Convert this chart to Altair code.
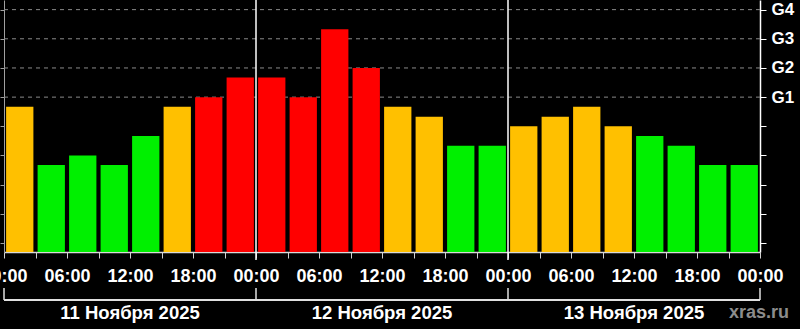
import altair as alt
import pandas as pd

# Kp index, 3-hour intervals, 11-13 Nov 2025
kp = [4.67, 2.67, 3.0, 2.67, 3.67, 4.67, 5.0, 5.67,
      5.67, 5.0, 7.33, 6.0, 4.67, 4.33, 3.33, 3.33,
      4.0, 4.33, 4.67, 4.0, 3.67, 3.33, 2.67, 2.67]
days = ["11 Ноября 2025", "12 Ноября 2025", "13 Ноября 2025"]
g_levels = [5, 6, 7, 8]
day_edges = [0, 24, 48, 72]
separators = [24, 48]

Y_MIN, Y_MAX = -0.31, 8.33
FONT = "Liberation Sans"

def level(v):
    if v < 4:
        return "quiet"
    if v < 5:
        return "active"
    return "storm"

bars_df = pd.DataFrame({
    "start": [i * 3 for i in range(len(kp))],
    "kp": kp,
    "level": [level(v) for v in kp],
})
days_df = pd.DataFrame({"day": days, "center": [i * 24 + 12 for i in range(len(days))]})
grid_df = pd.DataFrame({"g": g_levels})
edges_df = pd.DataFrame({"h": day_edges})
sep_df = pd.DataFrame({"h": separators})

xscale = alt.Scale(domain=[0, 72], nice=False, zero=False)
yscale = alt.Scale(domain=[Y_MIN, Y_MAX], nice=False, zero=False)

x_axis = alt.Axis(
    values=list(range(0, 73, 3)), title=None, grid=False,
    tickSize=6, tickColor="#d0d0d0", domainColor="#d8d8d8", domainWidth=1.5,
    labelExpr="datum.value % 6 == 0 ? ((datum.value % 24) < 10 ? '0' : '') + (datum.value % 24) + ':00' : ''",
    labelColor="white", labelFont=FONT, labelFontSize=18, labelFontWeight="bold",
    labelPadding=9, labelOverlap=False, labelBound=False, labelFlush=False,
)

def X(field):
    return alt.X(field, scale=xscale, axis=x_axis)

bars = alt.Chart(bars_df).mark_bar(opacity=1).transform_calculate(
    x0="datum.start + 0.2", x1="datum.start + 2.8"
).encode(
    x=X("x0:Q"),
    x2="x1:Q",
    y=alt.Y("kp:Q", scale=yscale, axis=alt.Axis(
        orient="left", values=list(range(0, 9)), labels=False, title=None, grid=False,
        tickSize=4, tickColor="#a0a0a0", domainColor="#a0a0a0")),
    y2=alt.datum(Y_MIN),
    color=alt.Color("level:N", legend=None, scale=alt.Scale(
        domain=["quiet", "active", "storm"], range=["#00F000", "#FFC000", "#FF0000"])),
)

grid = alt.Chart(grid_df).mark_rule(color="#8a8a8a", strokeDash=[4, 4], strokeWidth=1).encode(
    x=alt.datum(0, scale=xscale, axis=x_axis),
    x2=alt.datum(72),
    y=alt.Y("g:Q", scale=yscale, axis=alt.Axis(
        orient="right", values=list(range(0, 9)), title=None, grid=False,
        tickSize=6, tickColor="white", domainColor="white", domainWidth=1.5,
        labelExpr="datum.value >= 5 ? 'G' + (datum.value - 4) : ''",
        labelColor="white", labelFont=FONT, labelFontSize=17, labelFontWeight="bold",
        labelPadding=5, labelBound=False, labelFlush=False, labelOverlap=False)),
)

seps = alt.Chart(sep_df).mark_rule(color="white", strokeWidth=1.5).encode(
    x=X("h:Q"),
    y=alt.value(0), y2=alt.value(260),
)

bracket_h = alt.Chart(edges_df).mark_rule(color="#e0e0e0", strokeWidth=1.5).encode(
    x=alt.datum(0, scale=xscale, axis=x_axis), x2=alt.datum(72), y=alt.value(300),
)
bracket_v = alt.Chart(edges_df).mark_rule(color="#e0e0e0", strokeWidth=1.5).encode(
    x=X("h:Q"),
    y=alt.value(288), y2=alt.value(300),
)

day_text = alt.Chart(days_df).mark_text(
    color="white", font=FONT, fontSize=18.5, fontWeight="bold", baseline="middle", align="center"
).encode(
    x=X("center:Q"),
    y=alt.value(313),
    text="day:N",
)

brand = alt.Chart(pd.DataFrame({"t": ["xras.ru"]})).mark_text(
    color="#8c8c8c", font=FONT, fontSize=18, fontWeight="bold", baseline="middle", align="right"
).encode(x=alt.value(785), y=alt.value(313), text="t:N")

chart = alt.layer(grid, bars, seps, bracket_h, bracket_v, day_text, brand).resolve_axis(
    y="independent"
).properties(
    width=756, height=252,
    padding={"left": 4, "top": 0, "right": 40, "bottom": 77},
    autosize=alt.AutoSizeParams(type="none"),
    background="black",
).configure_view(stroke=None)

chart.save("out.html", embed_options={"renderer": "svg", "actions": False})
